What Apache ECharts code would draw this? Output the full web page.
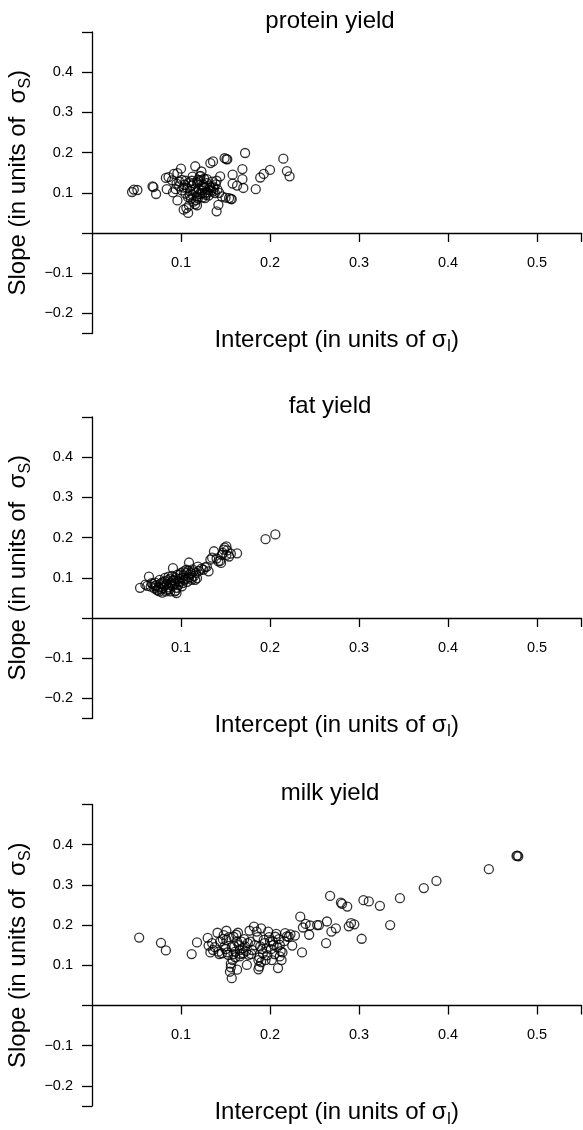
<!DOCTYPE html>
<html>
<head>
<meta charset="utf-8">
<script src="https://cdn.jsdelivr.net/npm/echarts@6/dist/echarts.min.js"></script>
<style>
html,body{margin:0;padding:0;background:#fff;}
#chart{width:583px;height:1130px;}
</style>
</head>
<body>
<div id="chart"></div>
<script>
// ---- data ----
const panelTitles = ['protein yield', 'fat yield', 'milk yield'];
const xTickValues = [0.1, 0.2, 0.3, 0.4, 0.5];
const yTickValues = [-0.2, -0.1, 0.1, 0.2, 0.3, 0.4];

const proteinIntercept = [0.045,0.047,0.051,0.068,0.069,0.072,0.084,0.083,0.086,0.090,0.092,0.096,0.100,0.091,0.096,0.098,0.101,0.103,0.106,0.108,0.109,0.111,0.116,0.114,0.118,0.119,0.121,0.123,0.125,0.127,0.129,0.131,0.133,0.136,0.136,0.138,0.140,0.142,0.144,0.146,0.149,0.151,0.154,0.157,0.158,0.158,0.163,0.169,0.169,0.170,0.172,0.184,0.189,0.193,0.200,0.215,0.219,0.222,
0.098,0.101,0.104,0.105,0.107,0.108,0.110,0.112,0.113,0.114,0.115,0.116,0.117,0.118,0.119,0.120,0.121,0.122,0.123,0.124,0.125,0.126,0.128,0.129,0.130,0.132,0.134,0.135,0.137,0.139,0.141,0.143,0.112,0.109,0.103,0.095,0.094,0.118,0.122,0.127,0.131,0.150,0.156,0.152,
0.105,0.110,0.113,0.117,0.120,0.124,0.126,0.133,0.136,0.140];
const proteinSlope = [0.102,0.108,0.107,0.116,0.114,0.097,0.109,0.137,0.139,0.131,0.147,0.149,0.160,0.101,0.081,0.116,0.106,0.058,0.062,0.050,0.068,0.085,0.166,0.124,0.091,0.132,0.141,0.153,0.116,0.099,0.124,0.108,0.174,0.178,0.116,0.099,0.054,0.070,0.141,0.091,0.186,0.184,0.087,0.084,0.145,0.123,0.118,0.159,0.134,0.112,0.199,0.109,0.138,0.147,0.157,0.185,0.154,0.141,
0.128,0.132,0.120,0.098,0.112,0.089,0.104,0.118,0.095,0.078,0.108,0.072,0.101,0.125,0.086,0.110,0.097,0.131,0.105,0.088,0.120,0.112,0.095,0.134,0.101,0.118,0.106,0.128,0.112,0.121,0.108,0.100,0.130,0.126,0.113,0.123,0.109,0.069,0.142,0.087,0.093,0.088,0.085,0.183,
0.130,0.093,0.140,0.082,0.128,0.100,0.135,0.113,0.103,0.130];

const fatIntercept = [0.054,0.060,0.064,0.067,0.071,0.073,0.076,0.078,0.080,0.082,0.084,0.086,0.088,0.091,0.091,0.093,0.095,0.097,0.099,0.101,0.103,0.104,0.106,0.109,0.110,0.112,0.114,0.116,0.119,0.125,0.129,0.131,0.133,0.137,0.142,0.146,0.148,0.151,0.151,0.154,0.163,0.195,0.206,
0.062,0.066,0.068,0.070,0.072,0.074,0.075,0.077,0.078,0.079,0.080,0.081,0.083,0.084,0.085,0.086,0.087,0.088,0.089,0.090,0.090,0.092,0.093,0.094,0.095,0.096,0.097,0.098,0.099,0.100,0.101,0.102,0.103,0.105,0.106,0.107,0.108,0.109,0.111,0.112,0.113,0.115,0.117,0.118,0.120,0.076,0.082,0.088,0.094,0.071,
0.123,0.127,0.135,0.140,0.144,0.147,0.149,0.152,0.145,0.156];
const fatSlope = [0.075,0.083,0.103,0.087,0.079,0.070,0.066,0.087,0.075,0.091,0.070,0.103,0.083,0.124,0.095,0.066,0.062,0.091,0.108,0.079,0.116,0.095,0.120,0.138,0.108,0.095,0.116,0.095,0.128,0.120,0.128,0.116,0.145,0.166,0.141,0.157,0.170,0.178,0.157,0.153,0.161,0.196,0.208,
0.080,0.078,0.085,0.074,0.082,0.068,0.077,0.085,0.072,0.063,0.090,0.080,0.066,0.085,0.094,0.076,0.071,0.098,0.088,0.080,0.105,0.093,0.085,0.100,0.075,0.108,0.082,0.097,0.090,0.112,0.100,0.087,0.106,0.098,0.112,0.090,0.118,0.101,0.112,0.100,0.121,0.105,0.112,0.099,0.117,0.095,0.100,0.066,0.068,0.088,
0.123,0.126,0.150,0.148,0.142,0.162,0.175,0.168,0.137,0.160];

const milkIntercept = [0.053,0.0775,0.083,0.112,0.118,0.130,0.131,0.133,0.135,0.136,0.141,0.142,0.144,0.146,0.148,0.149,0.151,0.151,0.153,0.155,0.156,0.157,0.158,0.159,0.160,0.161,0.163,0.163,0.164,0.166,0.166,0.168,0.170,0.172,0.174,0.176,0.177,0.178,0.180,0.182,0.185,0.187,0.187,0.189,0.190,0.192,0.193,0.195,0.196,0.198,0.200,0.202,0.204,0.206,0.207,0.209,0.211,0.211,0.213,0.214,0.217,0.221,0.223,0.225,0.228,0.234,0.236,0.237,0.240,0.244,0.245,0.253,
0.255,0.263,0.264,0.2675,0.269,0.274,0.2797,0.281,0.2868,0.2885,0.291,0.2947,0.303,0.305,0.311,0.3235,0.335,0.346,0.3728,0.387,0.4459,0.477,0.478,0.479,
0.138,0.143,0.147,0.150,0.152,0.154,0.157,0.159,0.162,0.165,0.167,0.169,0.171,0.173,0.175,0.179,0.183,0.186,0.188,0.191,0.194,0.197,0.199,0.201,0.203,0.205,0.208,0.210,0.212,0.216,0.219,0.188,0.156,0.161,0.190];
const milkSlope = [0.169,0.156,0.137,0.128,0.157,0.168,0.149,0.132,0.155,0.138,0.181,0.134,0.159,0.130,0.175,0.147,0.186,0.163,0.126,0.084,0.104,0.068,0.113,0.171,0.147,0.134,0.089,0.159,0.181,0.122,0.138,0.159,0.130,0.147,0.101,0.126,0.186,0.159,0.138,0.196,0.184,0.113,0.090,0.147,0.192,0.130,0.163,0.113,0.142,0.184,0.159,0.113,0.151,0.171,0.178,0.093,0.122,0.151,0.113,0.132,0.180,0.171,0.177,0.149,0.174,0.221,0.132,0.194,0.203,0.176,0.199,0.200,
0.200,0.155,0.209,0.2725,0.184,0.192,0.256,0.253,0.246,0.197,0.205,0.202,0.166,0.262,0.259,0.248,0.200,0.267,0.292,0.310,0.339,0.372,0.373,0.371,
0.145,0.128,0.165,0.140,0.132,0.170,0.145,0.128,0.176,0.150,0.128,0.142,0.165,0.135,0.155,0.128,0.150,0.170,0.120,0.140,0.155,0.125,0.170,0.140,0.160,0.128,0.145,0.165,0.135,0.160,0.172,0.097,0.095,0.120,0.108];

const panelIntercepts = [proteinIntercept, fatIntercept, milkIntercept];
const panelSlopes = [proteinSlope, fatSlope, milkSlope];

// ---- layout ----
const FONT = '"Liberation Sans", Arial, Helvetica, sans-serif';
const gridTops = [32, 417, 804.5];
const gridLeft = 92, gridWidth = 489.5, gridHeight = 301.5;
const Y_MIN = -0.25, Y_MAX = 0.5;
// x axis drawn at slope = 0: shift from the grid bottom
const zeroOffset = -gridHeight * (0 - Y_MIN) / (Y_MAX - Y_MIN);

const richName = {
  sub: { fontSize: 16, lineHeight: 16, padding: [14, 0, 0, 0], verticalAlign: 'bottom', fontFamily: FONT, color: '#000' }
};
const minus = v => String(v).replace('-', '\u2212');

const option = {
  animation: false,
  backgroundColor: '#fff',
  title: panelTitles.map((t, i) => ({
    text: t, left: 330, textAlign: 'center', top: gridTops[i] - 23, padding: 0,
    textStyle: { fontFamily: FONT, fontSize: 24, fontWeight: 'normal', color: '#000' }
  })),
  grid: gridTops.map(t => ({ left: gridLeft, top: t, width: gridWidth, height: gridHeight, containLabel: false, outerBoundsMode: 'none' })),
  xAxis: gridTops.map((t, i) => ({
    type: 'value', gridIndex: i, min: 0, max: 0.55, position: 'bottom', offset: zeroOffset,
    axisLine: { show: true, onZero: false, lineStyle: { color: '#000', width: 1.3 } },
    axisTick: { show: true, length: 9, customValues: xTickValues.concat([0.55]), lineStyle: { color: '#000', width: 1.3 } },
    axisLabel: { customValues: xTickValues, margin: 22, color: '#000', fontSize: 14.5, fontFamily: FONT, formatter: v => minus(v) },
    splitLine: { show: false },
    name: 'Intercept (in units of \u03c3{sub|I})',
    nameLocation: 'middle', nameGap: 92,
    nameTextStyle: { fontFamily: FONT, fontSize: 24, lineHeight: 30, color: '#000', rich: richName }
  })),
  yAxis: gridTops.map((t, i) => ({
    type: 'value', gridIndex: i, min: Y_MIN, max: Y_MAX,
    axisLine: { show: true, onZero: false, lineStyle: { color: '#000', width: 1.3 } },
    axisTick: { show: true, length: 10, customValues: [-0.25, -0.2, -0.1, 0, 0.1, 0.2, 0.3, 0.4, 0.5], lineStyle: { color: '#000', width: 1.3 } },
    axisLabel: { customValues: yTickValues, margin: 19, color: '#000', fontSize: 14.5, fontFamily: FONT, formatter: v => minus(v) },
    splitLine: { show: false },
    name: 'Slope (in units of  \u03c3{sub|S})',
    nameLocation: 'middle', nameRotate: 90, nameGap: 55,
    nameTextStyle: { fontFamily: FONT, fontSize: 24, lineHeight: 30, color: '#000', rich: richName }
  })),
  series: panelIntercepts.map((xs, i) => ({
    type: 'scatter', xAxisIndex: i, yAxisIndex: i,
    symbol: 'circle', symbolSize: 9,
    itemStyle: { color: 'rgba(0,0,0,0)', borderColor: '#000', borderWidth: 1.3 },
    emphasis: { disabled: true },
    data: xs.map((x, k) => [x, panelSlopes[i][k]])
  }))
};

const chart = echarts.init(document.getElementById('chart'), null, { renderer: 'canvas' });
chart.setOption(option);
</script>
</body>
</html>
